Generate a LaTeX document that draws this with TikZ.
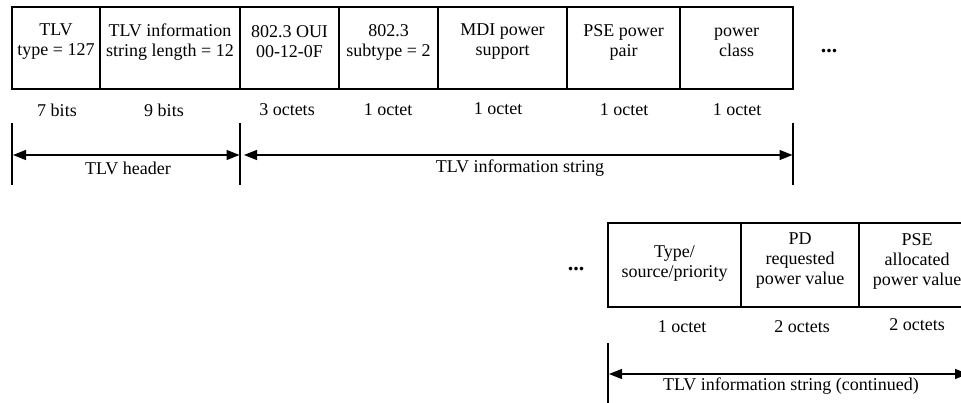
\documentclass[tikz,border=0pt]{standalone}
\usepackage{fontspec}
\setmainfont{Liberation Serif}
\usetikzlibrary{arrows.meta}
\begin{document}
\begin{tikzpicture}[x=1pt,y=-1pt,
  cell/.style={draw,line width=1.3pt,inner sep=0pt,minimum height=82pt},
  cellb/.style={draw,line width=1.3pt,inner sep=0pt,minimum height=84pt},
  txt/.style={align=center,inner sep=0pt,font=\fontsize{18}{20}\selectfont},
  lbl/.style={inner sep=0pt,font=\fontsize{18}{20}\selectfont},
  dotlbl/.style={inner sep=0pt,font=\fontsize{22}{24}\selectfont\bfseries},
  tick/.style={line width=1.3pt},
  dim/.style={line width=1.3pt,{Triangle[length=13pt,width=10pt]}-{Triangle[length=13pt,width=10pt]}}]
\useasboundingbox (0,0) rectangle (961,403);
\clip (0,0) rectangle (961,403);
% top row cells
\node[cell,minimum width=88pt]  (c1) at (56,48) {};
\node[cell,minimum width=140pt] (c2) at (170,48) {};
\node[cell,minimum width=99pt]  (c3) at (289.5,48) {};
\node[cell,minimum width=99pt]  (c4) at (388.5,48) {};
\node[cell,minimum width=129pt] (c5) at (502.5,48) {};
\node[cell,minimum width=113pt] (c6) at (623.5,48) {};
\node[cell,minimum width=113pt] (c7) at (736.5,48) {};
\node[txt] (t1) at (56,42) {TLV\\type = 127};
\node[txt] (t2) at (170,42) {TLV information\\string length = 12};
\node[txt] (t3) at (289.5,42) {802.3 OUI\\00-12-0F};
\node[txt] (t4) at (388.5,42) {802.3\\subtype = 2};
\node[txt] (t5) at (502.5,42) {MDI power\\support};
\node[txt] (t6) at (623.5,42) {PSE power\\pair};
\node[txt] (t7) at (736.5,42) {power\\class};
\node[dotlbl] (dots1) at (829,51) {...};
% sizes
\node[lbl] (s1) at (57,110) {7 bits};
\node[lbl] (s2) at (164,110) {9 bits};
\node[lbl] (s3) at (287,110) {3 octets};
\node[lbl] (s4) at (388,110) {1 octet};
\node[lbl] (s5) at (498,109) {1 octet};
\node[lbl] (s6) at (624,110) {1 octet};
\node[lbl] (s7) at (737,110) {1 octet};
% ticks and arrows
\coordinate (k1t) at (12,123); \coordinate (k1b) at (12,185);
\coordinate (k2t) at (240,123); \coordinate (k2b) at (240,185);
\coordinate (k3t) at (793,123); \coordinate (k3b) at (793,185);
\draw[tick] (k1t) -- (k1b);
\draw[tick] (k2t) -- (k2b);
\draw[tick] (k3t) -- (k3b);
\coordinate (a1l) at (13,155); \coordinate (a1r) at (239.5,155);
\coordinate (a2l) at (244,155); \coordinate (a2r) at (792.5,155);
\draw[dim] (a1l) -- (a1r);
\draw[dim] (a2l) -- (a2r);
\node[lbl] (h1) at (128,168) {TLV header};
\node[lbl] (h2) at (520,168) {TLV information string};
% bottom row
\node[cellb,minimum width=133pt] (b1) at (674.5,265) {};
\node[cellb,minimum width=118pt] (b2) at (800,265) {};
\node[cellb,minimum width=118pt] (b3) at (918,265) {};
\node[txt] (u1) at (674.5,264) {Type/\\source/priority};
\node[txt] (u2) at (800,261) {PD\\requested\\power value};
\node[txt] (u3) at (917,261) {PSE\\allocated\\power value};
\node[dotlbl] (dots2) at (576,269) {...};
\node[lbl] (v1) at (682,327) {1 octet};
\node[lbl] (v2) at (802,327) {2 octets};
\node[lbl] (v3) at (917,325) {2 octets};
\coordinate (k4t) at (608,343); \coordinate (k4b) at (608,405);
\draw[tick] (k4t) -- (k4b);
\coordinate (a3l) at (609,374); \coordinate (a3r) at (968,374);
\draw[dim] (a3l) -- (a3r);
\node[lbl] (h3) at (791,386) {TLV information string (continued)};
\end{tikzpicture}
\end{document}
